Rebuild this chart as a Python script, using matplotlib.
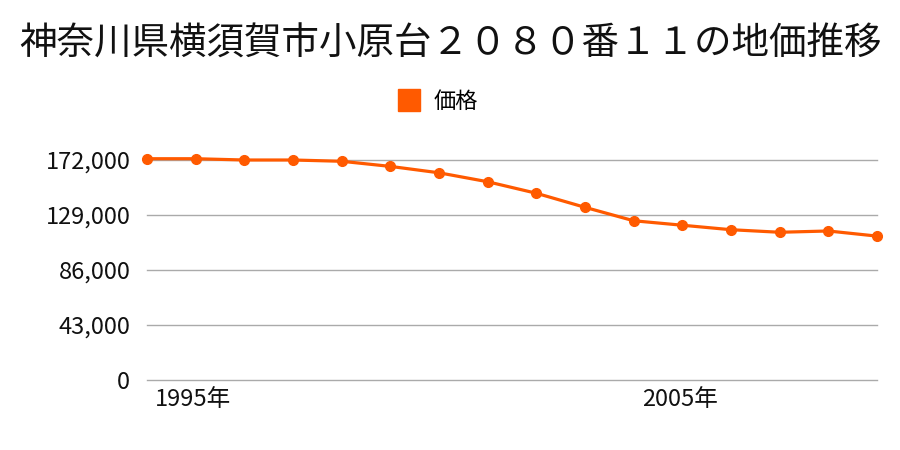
import matplotlib.pyplot as plt
from matplotlib.transforms import ScaledTranslation, blended_transform_factory
from matplotlib.lines import Line2D

plt.rcParams['font.family'] = ['Noto Sans CJK JP', 'DejaVu Sans']

# --- data ---
years = list(range(1995, 2011))
prices = [173000, 173000, 172000, 172000, 171000, 167000, 162000, 155000,
          146000, 135000, 124500, 121000, 117500, 115500, 116500, 112500]
ytick_vals = [0, 43000, 86000, 129000, 172000]
xtick_vals = [1995, 2005]
xtick_labels = ['1995年', '2005年']

TITLE = '神奈川県横須賀市小原台２０８０番１１の地価推移'
COLOR = '#ff5a00'

fig = plt.figure(figsize=(9, 4.5), dpi=100)
ax = fig.add_axes([147 / 900, 1 - 380 / 450, (877 - 147) / 900, (380 - 120) / 450])

ax.plot(years, prices, color=COLOR, linewidth=2.3, marker='o', markersize=7,
        clip_on=False, zorder=3)

ax.set_xlim(1995, 2010)
ax.set_ylim(0, 172000 * 260 / 220)
ax.set_yticks(ytick_vals)
ax.set_yticklabels([f'{v:,}' for v in ytick_vals])
ax.set_xticks([])

# x labels sit just right of their year, below the axis
trans = blended_transform_factory(ax.transData, ax.transAxes) + \
    ScaledTranslation(8 / 100, -8 / 100, fig.dpi_scale_trans)
for x, lab in zip(xtick_vals, xtick_labels):
    ax.text(x, 0, lab, transform=trans, ha='left', va='top', fontsize=17, color='#111111')

for v in ytick_vals:
    ax.axhline(v, color='#aaaaaa', linewidth=1, zorder=1, clip_on=False)
for s in ax.spines.values():
    s.set_visible(False)
ax.tick_params(length=0, labelsize=17, colors='#111111')
ax.tick_params(axis='y', pad=12)

fig.text(0.5, 1 - 44 / 450, TITLE, ha='center', va='center', fontsize=27, color='#111111')

handle = Line2D([], [], marker='s', linestyle='none', markersize=16,
                markerfacecolor=COLOR, markeredgecolor=COLOR)
fig.legend([handle], ['価格'], loc='center', bbox_to_anchor=(0.48, 1 - 101 / 450),
           frameon=False, fontsize=16, handletextpad=0.1)

fig.savefig('out.png', dpi=100)
